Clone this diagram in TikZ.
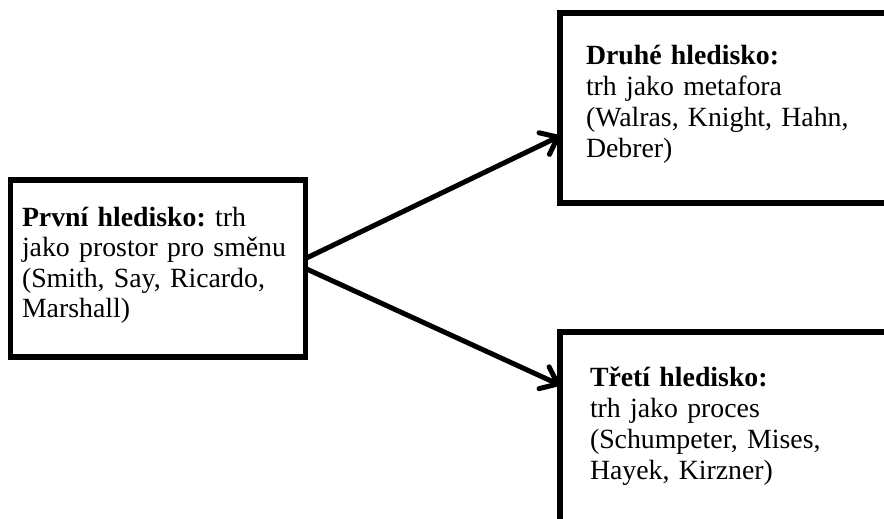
\documentclass[tikz,border=0pt]{standalone}
\usepackage{fontspec}
\setmainfont{Liberation Serif}
\usetikzlibrary{arrows.meta}
\tikzset{
  box/.style={draw=black, line width=5.5pt, rectangle, inner sep=0pt, outer sep=0pt, anchor=north west},
  txt/.style={inner sep=0pt, outer sep=0pt, anchor=base west, align=left, text width=300pt},
  lfont/.style={font=\fontsize{27.8}{30.5}\selectfont\frenchspacing},
  rfont/.style={font=\fontsize{27.8}{31}\selectfont\frenchspacing},
  arr/.style={line width=5pt, line cap=round, line join=round, -{Straight Barb[length=15pt,width=24pt,round]}}
}
\begin{document}
\begin{tikzpicture}[x=1pt,y=-1pt]
\useasboundingbox (0,0) rectangle (884,519);
\clip (0,0) rectangle (884,519);
\fill[white] (0,0) rectangle (884,519);
\node[box, minimum width=295pt, minimum height=177pt] (first) at (10.5,180) {};
\node[box, minimum width=400pt, minimum height=190pt] (second) at (560,13) {};
\node[box, minimum width=400pt, minimum height=250pt] (third) at (560,332) {};
\node[txt, lfont] (ftext) at (22,226) {\textbf{První hledisko:} trh\\jako prostor pro směnu\\(Smith, Say, Ricardo,\\Marshall)};
\node[txt, rfont] (stext) at (586,65) {\textbf{Druhé hledisko:}\\trh jako metafora\\(Walras, Knight, Hahn,\\Debrer)};
\node[txt, rfont] (ttext) at (590,386) {\textbf{Třetí hledisko:}\\trh jako proces\\(Schumpeter, Mises,\\Hayek, Kirzner)};
\draw[arr] ([yshift=10pt]first.east) -- ([yshift=-28pt]second.west);
\draw[arr] (first.east) -- ([yshift=72pt]third.west);
\end{tikzpicture}
\end{document}
